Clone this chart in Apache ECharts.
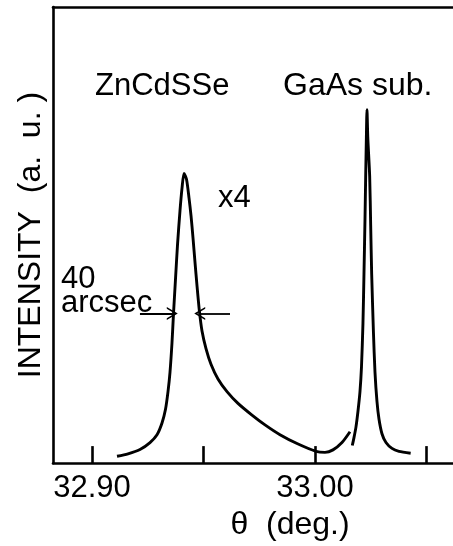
<!DOCTYPE html>
<html><head><meta charset="utf-8">
<script src="https://cdn.jsdelivr.net/npm/echarts@6/dist/echarts.min.js"></script>
<style>html,body{margin:0;padding:0;background:#fff}#c{width:453px;height:546px}</style>
</head><body><div id="c"></div>
<script>
// ZnCdSSe epilayer peak (x4)
const thetaZn = [32.91121,32.91614,32.92152,32.92601,32.92915,32.93139,32.93296,32.93408,32.93498,32.93587,32.93655,32.93744,32.93834,32.93946,32.94036,32.94126,32.94238,32.94350,32.94439,32.94529,32.94619,32.94709,32.94812,32.94933,32.95112,32.95336,32.95650,32.96054,32.96547,32.97175,32.97758,32.98430,32.99193,33.00045,33.00448,33.00807,33.01211,33.01570];
const intZn   = [1.50,2.04,3.00,4.51,6.22,8.80,11.80,15.67,19.96,26.39,32.83,40.34,47.85,55.36,60.30,63.52,62.23,58.15,54.29,49.36,43.99,38.84,33.48,28.97,25.11,21.67,18.45,15.67,13.09,10.52,8.37,6.22,4.29,2.58,2.36,2.90,4.51,6.87];
// GaAs substrate peak
const thetaGa = [33.01673,33.01749,33.01839,33.01928,33.02018,33.02085,33.02152,33.02197,33.02242,33.02274,33.02305,33.02332,33.02368,33.02453,33.02498,33.02543,33.02623,33.02691,33.02780,33.02870,33.03004,33.03184,33.03453,33.03767,33.04291];
const intGa   = [3.86,5.58,7.94,11.37,15.67,21.03,30.69,41.42,53.22,62.88,71.46,77.47,71.46,62.88,52.15,41.42,28.54,19.96,13.52,9.66,6.44,4.51,3.22,2.58,2.15];
// axis
const tickValues  = [32.90,32.95,33.00,33.05];
const labelValues = [32.90,33.00];
const xMin = 32.8825, xMax = 33.0619;
const yMin = 0, yMax = 100;
// FWHM arrows (tail, head) at half-maximum level
const fwhmLevel = 32.8;
const fwhmLeftArrow  = [32.9215, 32.9360];
const fwhmRightArrow = [32.9619, 32.9483];

const font = '"Liberation Sans", Arial, sans-serif';
const chevron = 'path://M0,10 L5,0 L10,10 L8.6,10 L5,2.8 L1.4,10 Z';

const chart = echarts.init(document.getElementById('c'));
chart.setOption({
  animation: false,
  backgroundColor: '#fff',
  grid: {left: 53, right: 0, top: 7, bottom: 73},
  xAxis: [{
    type: 'value', min: xMin, max: xMax, position: 'bottom',
    splitLine: {show: false},
    axisLine: {show: true, lineStyle: {color: '#000', width: 2.6}},
    axisTick: {show: true, inside: true, length: 17, customValues: tickValues, lineStyle: {color: '#000', width: 2.6}},
    axisLabel: {show: true, customValues: labelValues, formatter: v => Number(v).toFixed(2), margin: 10,
      color: '#000', fontSize: 31, fontFamily: font},
    name: 'θ  (deg.)', nameLocation: 'middle', nameGap: 38,
    nameTextStyle: {color: '#000', fontSize: 32, fontFamily: font, padding: [0, 0, 0, 74]}
  }, {
    type: 'value', min: xMin, max: xMax, position: 'top',
    splitLine: {show: false},
    axisLine: {show: true, lineStyle: {color: '#000', width: 2.6}},
    axisTick: {show: false}, axisLabel: {show: false}
  }],
  yAxis: {
    type: 'value', min: yMin, max: yMax,
    splitLine: {show: false},
    axisLine: {show: true, lineStyle: {color: '#000', width: 2.6}},
    axisTick: {show: false}, axisLabel: {show: false},
    name: 'INTENSITY  (a.  u. )', nameLocation: 'middle', nameGap: 6,
    nameTextStyle: {color: '#000', fontSize: 32, fontFamily: font}
  },
  series: [{
    name: 'ZnCdSSe', type: 'line', showSymbol: false, smooth: 0.25,
    data: thetaZn.map((t, i) => [t, intZn[i]]),
    lineStyle: {color: '#000', width: 2.9},
    markLine: {
      silent: true, symbol: ['none', chevron], symbolSize: [13, 11],
      label: {show: false},
      lineStyle: {color: '#000', width: 1.8, type: 'solid'},
      data: [
        [{coord: [fwhmLeftArrow[0], fwhmLevel]}, {coord: [fwhmLeftArrow[1], fwhmLevel]}],
        [{coord: [fwhmRightArrow[0], fwhmLevel]}, {coord: [fwhmRightArrow[1], fwhmLevel]}]
      ]
    }
  }, {
    name: 'GaAs sub.', type: 'line', showSymbol: false, smooth: 0.25,
    data: thetaGa.map((t, i) => [t, intGa[i]]),
    lineStyle: {color: '#000', width: 2.9}
  }],
  graphic: [
    {type: 'text', left: 95, top: 71, style: {text: 'ZnCdSSe', fill: '#000', font: '31px ' + font}},
    {type: 'text', left: 283, top: 70, style: {text: 'GaAs sub.', fill: '#000', font: '32px ' + font}},
    {type: 'text', left: 218, top: 183, style: {text: 'x4', fill: '#000', font: '31px ' + font}},
    {type: 'text', left: 61, top: 264, style: {text: '40', fill: '#000', font: '31px ' + font}},
    {type: 'text', left: 61, top: 288, style: {text: 'arcsec', fill: '#000', font: '31px ' + font}}
  ]
});
</script></body></html>
